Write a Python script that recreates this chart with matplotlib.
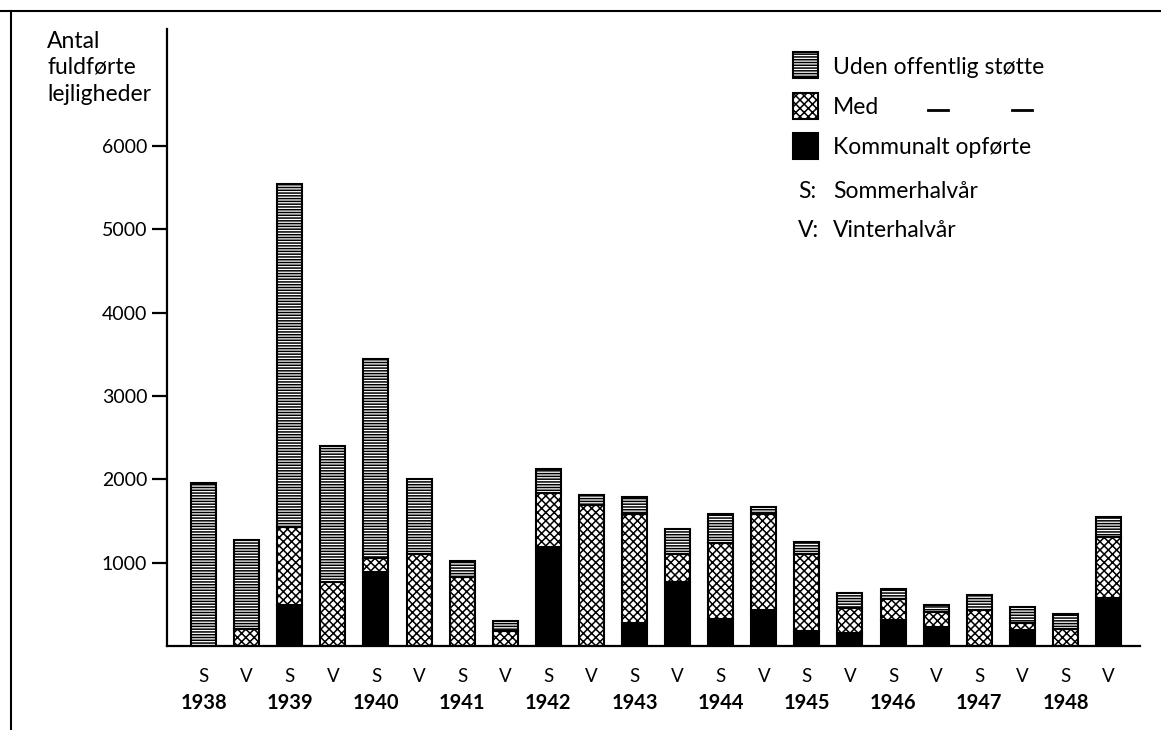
import numpy as np
import matplotlib
matplotlib.use("Agg")
import matplotlib.pyplot as plt
from matplotlib.patches import Rectangle
from matplotlib.lines import Line2D
from matplotlib.transforms import blended_transform_factory

plt.rcParams['font.family'] = ['Lato', 'DejaVu Sans']
plt.rcParams['hatch.linewidth'] = 1.1

# halvår: S = sommer, V = vinter
years = [1938, 1939, 1940, 1941, 1942, 1943, 1944, 1945, 1946, 1947, 1948]
halves = ['S', 'V'] * len(years)

# antal fuldførte lejligheder pr. halvår
kommunalt = [0, 0, 490, 0, 890, 0, 0, 0, 1190, 0, 280,
             770, 330, 430, 180, 160, 310, 230, 0, 190, 0, 580]
med = [0, 200, 940, 770, 170, 1100, 830, 180, 650, 1690, 1300,
       330, 910, 1150, 920, 300, 250, 180, 430, 90, 210, 730]
uden = [1960, 1070, 4120, 1630, 2390, 900, 190, 120, 280, 120, 210,
        300, 350, 90, 150, 180, 130, 80, 180, 190, 170, 240]

W, H = 1161, 730


def fx(px):
    return px / W


def fy(py):
    return 1 - py / H


fig = plt.figure(figsize=(W / 100, H / 100), dpi=100)
fig.patch.set_facecolor('white')
ax = fig.add_axes([fx(167), fy(646), (1140 - 167) / W, (646 - 29) / H])

x = np.arange(len(halves))
kom = np.array(kommunalt)
md = np.array(med)
ud = np.array(uden)
bw = 0.58
ax.bar(x, kom, bw, color='black', edgecolor='black', lw=1.5)
ax.bar(x, md, bw, bottom=kom, color='white', edgecolor='black', hatch='xxxx', lw=1.5)
ax.bar(x, ud, bw, bottom=kom + md, color='white', edgecolor='black', hatch='------', lw=1.5)

ax.set_xlim(-0.85, 21.73)
ax.set_ylim(0, 7404)
for s in ['top', 'right']:
    ax.spines[s].set_visible(False)
for s in ['left', 'bottom']:
    ax.spines[s].set_linewidth(1.6)

ax.set_yticks(range(1000, 7000, 1000))
ax.tick_params(axis='y', length=10.8, width=1.6, pad=3.5, labelsize=14)
ax.set_xticks([])

# S/V og årstal under akserne
tr = blended_transform_factory(ax.transData, fig.transFigure)
for i, h in enumerate(halves):
    ax.text(x[i], fy(682), h, transform=tr, ha='center', va='baseline', fontsize=13.5)
for i, yr in enumerate(years):
    ax.text(x[2 * i], fy(709), str(yr), transform=tr, ha='center', va='baseline',
            fontsize=14.5, fontweight='bold')

# y-akse tekst
for txt, by in [('Antal', 48), ('fuldførte', 74), ('lejligheder', 101)]:
    fig.text(fx(47), fy(by), txt, ha='left', va='baseline', fontsize=16.5)

# signaturforklaring
leg = [('Uden offentlig støtte', 'white', '------', 52),
       ('Med', 'white', 'xxxx', 93),
       ('Kommunalt opførte', 'black', None, 133)]
for label, fc, hatch, top in leg:
    fig.add_artist(Rectangle((fx(793), fy(top + 26)), 25 / W, 26 / H, transform=fig.transFigure,
                             facecolor=fc, edgecolor='black', hatch=hatch, lw=1.5))
    fig.text(fx(833), fy(top + 13), label, ha='left', va='center_baseline', fontsize=16.5)
for x0 in [928, 1012]:
    fig.add_artist(Line2D([fx(x0), fx(x0 + 20)], [fy(110), fy(110)], transform=fig.transFigure,
                          color='black', lw=2))
for key, label, cy in [('S:', 'Sommerhalvår', 189), ('V:', 'Vinterhalvår', 228)]:
    fig.text(fx(798), fy(cy), key, ha='left', va='center_baseline', fontsize=16.5)
    fig.text(fx(833), fy(cy), label, ha='left', va='center_baseline', fontsize=16.5)

# ramme
fig.add_artist(Line2D([0, 1], [fy(11), fy(11)], transform=fig.transFigure, color='black', lw=1.5))
fig.add_artist(Line2D([fx(11), fx(11)], [fy(11), 0], transform=fig.transFigure, color='black', lw=1.5))

fig.savefig('out.png', dpi=100, facecolor='white')
